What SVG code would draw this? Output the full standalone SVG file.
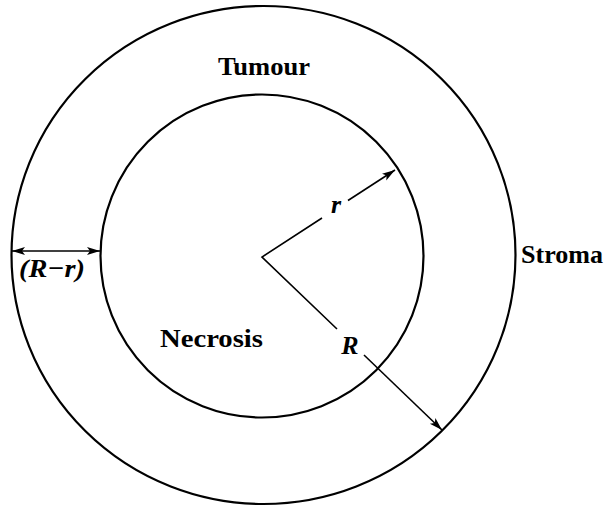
<svg xmlns="http://www.w3.org/2000/svg" width="606" height="507" viewBox="0 0 606 507">
<style>
.ring{fill:none;stroke:#000;stroke-width:2.2}
.ln{fill:none;stroke:#000;stroke-width:1.6}
.lbl{font-family:"Liberation Serif","DejaVu Serif",serif;font-weight:bold;font-size:26px;fill:#000}
.it{font-family:"Liberation Serif","DejaVu Serif",serif;font-weight:bold;font-style:italic;font-size:26px;fill:#000}
</style>
<defs>
<marker id="ah" markerWidth="14" markerHeight="10" refX="13" refY="5" orient="auto-start-reverse" markerUnits="userSpaceOnUse">
<path d="M0,1 L13,5 L0,9 L3,5 Z" fill="#000"/>
</marker>
</defs>
<rect width="606" height="507" fill="#fff"/>
<g id="stroma">
<ellipse class="ring" cx="263.5" cy="255" rx="252" ry="249"/>
<text class="lbl" x="521" y="263" textLength="82" lengthAdjust="spacingAndGlyphs">Stroma</text>
</g>
<g id="tumour">
<text class="lbl" x="218" y="75" textLength="92" lengthAdjust="spacingAndGlyphs">Tumour</text>
</g>
<g id="necrosis">
<circle class="ring" cx="262" cy="256" r="161.5"/>
<text class="lbl" x="160" y="347" textLength="103" lengthAdjust="spacingAndGlyphs">Necrosis</text>
</g>
<g id="connectors">
<path class="ln" d="M322,218 L262,257 L337,329"/>
<path class="ln" d="M348,200.5 L395,170" marker-end="url(#ah)"/>
<path class="ln" d="M364,355 L442,430" marker-end="url(#ah)"/>
<path class="ln" d="M12,251 L100,251" marker-start="url(#ah)" marker-end="url(#ah)"/>
<text class="it" x="336" y="213" text-anchor="middle">r</text>
<text class="it" x="350" y="354" text-anchor="middle">R</text>
<text class="it" x="19" y="277" textLength="66" lengthAdjust="spacingAndGlyphs">(R−r)</text>
</g>
</svg>
